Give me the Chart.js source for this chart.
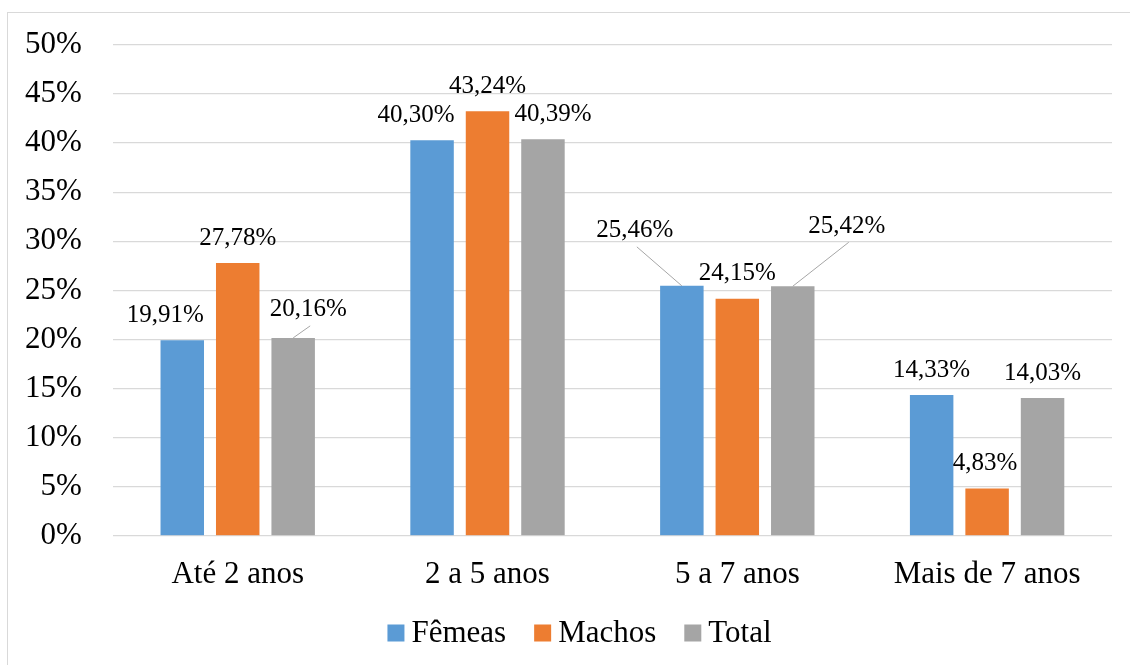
<!DOCTYPE html>
<html lang="pt">
<head>
<meta charset="utf-8">
<title>Faixa etária</title>
<script src="https://cdn.jsdelivr.net/npm/chart.js@4.4.1/dist/chart.umd.min.js"></script>
<style>
  html, body { margin: 0; padding: 0; background: #fff; }
  body { width: 1130px; height: 665px; position: relative; overflow: hidden; }
  .frame {
    position: absolute; left: 7px; top: 12px; right: -10px; bottom: -10px;
    border: 1.5px solid #d9d9d9;
  }
  #chartWrap { position: absolute; left: 0; top: 0; width: 1130px; height: 665px; }
</style>
</head>
<body>
<div class="frame"></div>
<div id="chartWrap"><canvas id="chart" width="1130" height="665"></canvas></div>
<script>
  "use strict";

  const categories = ["Até 2 anos", "2 a 5 anos", "5 a 7 anos", "Mais de 7 anos"];
  const femeas = [19.91, 40.30, 25.46, 14.33];
  const machos = [27.78, 43.24, 24.15, 4.83];
  const total = [20.16, 40.39, 25.42, 14.03];
  const seriesNames = ["Fêmeas", "Machos", "Total"];
  const yMin = 0;
  const yMax = 50;
  const yStep = 5;

  const COLORS = ["#5b9bd5", "#ed7d31", "#a5a5a5"];
  const SERIF = "'Liberation Serif', 'Times New Roman', serif";

  // Excel nudged a few labels sideways / up to avoid overlap: [dx, dy] per bar.
  const labelShift = [
    [[-17, 0], [-16, 0], [-47, -30], [0, 0]],
    [[0, 0], [0, 0], [0, 0], [-2, 0]],
    [[15, -3], [10, 0], [54, -35], [0, 0]],
  ];
  // Bars whose moved label gets a thin leader line back to the bar.
  const leaders = [[0, 2], [2, 0], [2, 2]];

  function fmt(v) {
    return v.toFixed(2).replace(".", ",") + "%";
  }

  const dataLabels = {
    id: "dataLabels",
    afterDatasetsDraw(chart) {
      const ctx = chart.ctx;
      ctx.save();
      ctx.font = `25px ${SERIF}`;
      ctx.fillStyle = "#000";
      ctx.textAlign = "center";
      ctx.textBaseline = "middle";
      chart.data.datasets.forEach((ds, i) => {
        const meta = chart.getDatasetMeta(i);
        meta.data.forEach((bar, j) => {
          const [dx, dy] = labelShift[i][j];
          const lx = bar.x + dx;
          const ly = bar.y - 25 + dy;
          const hasLeader = leaders.some(([a, b]) => a === i && b === j);
          if (hasLeader) {
            ctx.strokeStyle = "#a6a6a6";
            ctx.lineWidth = 1;
            ctx.beginPath();
            ctx.moveTo(bar.x, bar.y);
            ctx.lineTo(lx + 2, ly + 16);
            ctx.stroke();
          }
          ctx.fillText(fmt(ds.data[j]), lx, ly);
        });
      });
      ctx.restore();
    },
  };

  const bottomLegend = {
    id: "bottomLegend",
    afterDraw(chart) {
      const ctx = chart.ctx;
      const box = 17;
      const gapText = 7;
      const gapItem = 28;
      const centerX = 579.5;
      const centerY = 633;
      ctx.save();
      ctx.font = `31px ${SERIF}`;
      const items = chart.data.datasets.map((ds) => ({
        text: ds.label,
        color: ds.backgroundColor,
        w: ctx.measureText(ds.label).width,
      }));
      const totalW = items.reduce((s, it) => s + box + gapText + it.w, 0) +
        gapItem * (items.length - 1);
      let x = centerX - totalW / 2;
      ctx.textBaseline = "middle";
      ctx.textAlign = "left";
      items.forEach((it) => {
        ctx.fillStyle = it.color;
        ctx.fillRect(x, centerY - box / 2, box, box);
        ctx.fillStyle = "#000";
        ctx.fillText(it.text, x + box + gapText, centerY + 1);
        x += box + gapText + it.w + gapItem;
      });
      ctx.restore();
    },
  };

  const seriesData = [femeas, machos, total];

  new Chart(document.getElementById("chart"), {
    type: "bar",
    data: {
      labels: categories,
      datasets: seriesData.map((values, i) => ({
        label: seriesNames[i],
        data: values,
        backgroundColor: COLORS[i],
        borderWidth: 0,
        categoryPercentage: 0.666,
        barPercentage: 0.784,
      })),
    },
    options: {
      responsive: false,
      animation: false,
      devicePixelRatio: 1,
      // the scales reserve their tick padding twice, hence the negative left
      layout: {padding: {left: -6, right: 18, top: 15, bottom: 52}},
      plugins: {
        legend: {display: false},
        tooltip: {enabled: false},
      },
      scales: {
        x: {
          grid: {display: false, drawTicks: false},
          border: {display: false},
          ticks: {
            color: "#000",
            font: {family: SERIF, size: 31},
            padding: 20,
            maxRotation: 0,
          },
        },
        y: {
          min: yMin,
          max: yMax,
          grid: {color: "#d9d9d9", lineWidth: 1.3, drawTicks: false},
          border: {display: false},
          ticks: {
            stepSize: yStep,
            color: "#000",
            // tight line height so the top label does not push the plot down
            font: {family: SERIF, size: 31, lineHeight: 0.9},
            padding: 31,
            callback: (v) => v + "%",
          },
        },
      },
    },
    plugins: [dataLabels, bottomLegend],
  });
</script>
</body>
</html>
